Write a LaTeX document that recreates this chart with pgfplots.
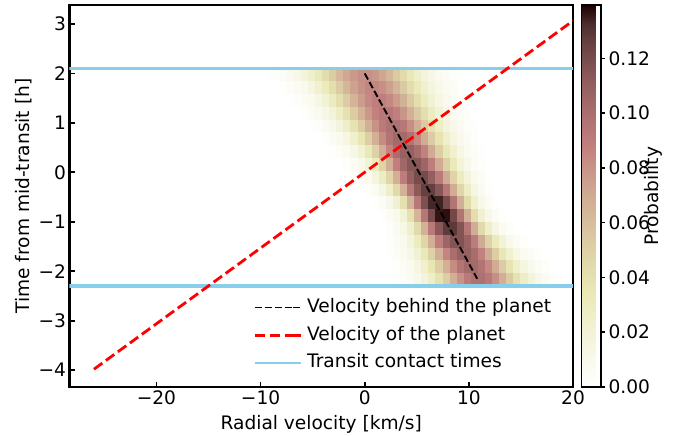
\documentclass[border=0pt]{standalone}
\usepackage{pgfplots}
\pgfplotsset{compat=1.18}
\usepackage{fontspec}
\setmainfont{DejaVu Sans}
\newcommand{\fs}{\fontsize{18.6pt}{22pt}\selectfont}
\definecolor{skyblue}{RGB}{135,206,235}
\pgfdeclareplotmark{cell}{\pgfpathrectangle{\pgfpoint{-3.62pt}{-6.5pt}}{\pgfpoint{7.24pt}{13pt}}\pgfusepathqfill}
\pgfplotsset{colormap={pinkr}{rgb(0pt)=(1,1,1); rgb(6pt)=(0.980,0.980,0.939); rgb(13pt)=(0.956,0.956,0.862); rgb(25.4pt)=(0.911,0.911,0.705); rgb(38pt)=(0.864,0.798,0.643); rgb(50pt)=(0.816,0.672,0.577); rgb(55pt)=(0.796,0.612,0.548); rgb(60pt)=(0.775,0.545,0.516); rgb(63.5pt)=(0.759,0.493,0.493); rgb(70pt)=(0.690,0.447,0.447); rgb(80pt)=(0.568,0.365,0.365); rgb(90pt)=(0.410,0.258,0.258); rgb(95pt)=(0.302,0.183,0.183); rgb(100pt)=(0.118,0,0)}}
\pgfplotstableread{
x y c
-9.18 1.971 0.0017
-8.50 1.971 0.0030
-7.82 1.971 0.0049
-7.14 1.971 0.0079
-6.46 1.971 0.0120
-5.78 1.971 0.0175
-5.10 1.971 0.0247
-4.42 1.971 0.0332
-3.74 1.971 0.0428
-3.06 1.971 0.0530
-2.38 1.971 0.0629
-1.70 1.971 0.0715
-1.02 1.971 0.0780
-0.34 1.971 0.0815
0.34 1.971 0.0817
1.02 1.971 0.0785
1.70 1.971 0.0722
2.38 1.971 0.0638
3.06 1.971 0.0540
3.74 1.971 0.0438
4.42 1.971 0.0341
5.10 1.971 0.0254
5.78 1.971 0.0182
6.46 1.971 0.0125
7.14 1.971 0.0082
7.82 1.971 0.0052
8.50 1.971 0.0031
9.18 1.971 0.0018
-7.82 1.712 0.0022
-7.14 1.712 0.0039
-6.46 1.712 0.0065
-5.78 1.712 0.0103
-5.10 1.712 0.0157
-4.42 1.712 0.0229
-3.74 1.712 0.0318
-3.06 1.712 0.0421
-2.38 1.712 0.0532
-1.70 1.712 0.0642
-1.02 1.712 0.0739
-0.34 1.712 0.0813
0.34 1.712 0.0854
1.02 1.712 0.0856
1.70 1.712 0.0819
2.38 1.712 0.0748
3.06 1.712 0.0652
3.74 1.712 0.0543
4.42 1.712 0.0431
5.10 1.712 0.0327
5.78 1.712 0.0237
6.46 1.712 0.0164
7.14 1.712 0.0108
7.82 1.712 0.0068
8.50 1.712 0.0041
9.18 1.712 0.0023
-7.14 1.453 0.0016
-6.46 1.453 0.0030
-5.78 1.453 0.0053
-5.10 1.453 0.0088
-4.42 1.453 0.0140
-3.74 1.453 0.0211
-3.06 1.453 0.0302
-2.38 1.453 0.0411
-1.70 1.453 0.0531
-1.02 1.453 0.0653
-0.34 1.453 0.0763
0.34 1.453 0.0847
1.02 1.453 0.0893
1.70 1.453 0.0895
2.38 1.453 0.0853
3.06 1.453 0.0772
3.74 1.453 0.0665
4.42 1.453 0.0543
5.10 1.453 0.0422
5.78 1.453 0.0312
6.46 1.453 0.0219
7.14 1.453 0.0146
7.82 1.453 0.0093
8.50 1.453 0.0056
9.18 1.453 0.0032
9.86 1.453 0.0017
-5.78 1.194 0.0023
-5.10 1.194 0.0043
-4.42 1.194 0.0074
-3.74 1.194 0.0123
-3.06 1.194 0.0193
-2.38 1.194 0.0285
-1.70 1.194 0.0399
-1.02 1.194 0.0529
-0.34 1.194 0.0662
0.34 1.194 0.0784
1.02 1.194 0.0879
1.70 1.194 0.0932
2.38 1.194 0.0935
3.06 1.194 0.0887
3.74 1.194 0.0796
4.42 1.194 0.0675
5.10 1.194 0.0542
5.78 1.194 0.0411
6.46 1.194 0.0296
7.14 1.194 0.0201
7.82 1.194 0.0129
8.50 1.194 0.0078
9.18 1.194 0.0045
9.86 1.194 0.0025
-5.10 0.935 0.0017
-4.42 0.935 0.0032
-3.74 0.935 0.0060
-3.06 0.935 0.0104
-2.38 0.935 0.0171
-1.70 0.935 0.0264
-1.02 0.935 0.0384
-0.34 0.935 0.0523
0.34 0.935 0.0672
1.02 0.935 0.0810
1.70 0.935 0.0919
2.38 0.935 0.0981
3.06 0.935 0.0984
3.74 0.935 0.0928
4.42 0.935 0.0823
5.10 0.935 0.0686
5.78 0.935 0.0538
6.46 0.935 0.0397
7.14 0.935 0.0275
7.82 0.935 0.0179
8.50 0.935 0.0110
9.18 0.935 0.0063
9.86 0.935 0.0034
10.54 0.935 0.0018
-3.74 0.676 0.0024
-3.06 0.676 0.0047
-2.38 0.676 0.0087
-1.70 0.676 0.0150
-1.02 0.676 0.0243
-0.34 0.676 0.0366
0.34 0.676 0.0515
1.02 0.676 0.0678
1.70 0.676 0.0834
2.38 0.676 0.0959
3.06 0.676 0.1029
3.74 0.676 0.1033
4.42 0.676 0.0968
5.10 0.676 0.0849
5.78 0.676 0.0695
6.46 0.676 0.0531
7.14 0.676 0.0380
7.82 0.676 0.0254
8.50 0.676 0.0158
9.18 0.676 0.0092
9.86 0.676 0.0050
10.54 0.676 0.0026
-3.06 0.418 0.0016
-2.38 0.418 0.0035
-1.70 0.418 0.0069
-1.02 0.418 0.0127
-0.34 0.418 0.0216
0.34 0.418 0.0342
1.02 0.418 0.0501
1.70 0.418 0.0682
2.38 0.418 0.0860
3.06 0.418 0.1004
3.74 0.418 0.1087
4.42 0.418 0.1092
5.10 0.418 0.1016
5.78 0.418 0.0876
6.46 0.418 0.0700
7.14 0.418 0.0519
7.82 0.418 0.0356
8.50 0.418 0.0227
9.18 0.418 0.0134
9.86 0.418 0.0073
10.54 0.418 0.0037
11.22 0.418 0.0017
-1.70 0.159 0.0025
-1.02 0.159 0.0053
-0.34 0.159 0.0104
0.34 0.159 0.0189
1.02 0.159 0.0316
1.70 0.159 0.0484
2.38 0.159 0.0681
3.06 0.159 0.0881
3.74 0.159 0.1048
4.42 0.159 0.1145
5.10 0.159 0.1150
5.78 0.159 0.1061
6.46 0.159 0.0900
7.14 0.159 0.0702
7.82 0.159 0.0503
8.50 0.159 0.0331
9.18 0.159 0.0200
9.86 0.159 0.0111
10.54 0.159 0.0057
11.22 0.159 0.0027
-1.02 -0.100 0.0017
-0.34 -0.100 0.0040
0.34 -0.100 0.0085
1.02 -0.100 0.0164
1.70 -0.100 0.0289
2.38 -0.100 0.0463
3.06 -0.100 0.0677
3.74 -0.100 0.0900
4.42 -0.100 0.1090
5.10 -0.100 0.1203
5.78 -0.100 0.1209
6.46 -0.100 0.1106
7.14 -0.100 0.0921
7.82 -0.100 0.0699
8.50 -0.100 0.0483
9.18 -0.100 0.0304
9.86 -0.100 0.0174
10.54 -0.100 0.0091
11.22 -0.100 0.0043
11.90 -0.100 0.0019
0.34 -0.359 0.0030
1.02 -0.359 0.0068
1.70 -0.359 0.0141
2.38 -0.359 0.0263
3.06 -0.359 0.0442
3.74 -0.359 0.0670
4.42 -0.359 0.0917
5.10 -0.359 0.1131
5.78 -0.359 0.1260
6.46 -0.359 0.1267
7.14 -0.359 0.1149
7.82 -0.359 0.0940
8.50 -0.359 0.0695
9.18 -0.359 0.0463
9.86 -0.359 0.0278
10.54 -0.359 0.0151
11.22 -0.359 0.0074
11.90 -0.359 0.0033
1.02 -0.618 0.0019
1.70 -0.618 0.0049
2.38 -0.618 0.0112
3.06 -0.618 0.0226
3.74 -0.618 0.0407
4.42 -0.618 0.0653
5.10 -0.618 0.0931
5.78 -0.618 0.1182
6.46 -0.618 0.1336
7.14 -0.618 0.1344
7.82 -0.618 0.1203
8.50 -0.618 0.0959
9.18 -0.618 0.0680
9.86 -0.618 0.0429
10.54 -0.618 0.0241
11.22 -0.618 0.0121
11.90 -0.618 0.0054
12.58 -0.618 0.0021
1.70 -0.876 0.0017
2.38 -0.876 0.0044
3.06 -0.876 0.0103
3.74 -0.876 0.0214
4.42 -0.876 0.0396
5.10 -0.876 0.0647
5.78 -0.876 0.0937
6.46 -0.876 0.1201
7.14 -0.876 0.1365
7.82 -0.876 0.1373
8.50 -0.876 0.1223
9.18 -0.876 0.0966
9.86 -0.876 0.0675
10.54 -0.876 0.0418
11.22 -0.876 0.0229
11.90 -0.876 0.0111
12.58 -0.876 0.0048
13.26 -0.876 0.0018
2.38 -1.135 0.0027
3.06 -1.135 0.0063
3.74 -1.135 0.0134
4.42 -1.135 0.0254
5.10 -1.135 0.0433
5.78 -1.135 0.0666
6.46 -1.135 0.0921
7.14 -1.135 0.1144
7.82 -1.135 0.1279
8.50 -1.135 0.1286
9.18 -1.135 0.1163
9.86 -1.135 0.0945
10.54 -1.135 0.0691
11.22 -1.135 0.0455
11.90 -1.135 0.0269
12.58 -1.135 0.0143
13.26 -1.135 0.0068
13.94 -1.135 0.0029
2.38 -1.394 0.0022
3.06 -1.394 0.0048
3.74 -1.394 0.0097
4.42 -1.394 0.0181
5.10 -1.394 0.0306
5.78 -1.394 0.0477
6.46 -1.394 0.0680
7.14 -1.394 0.0888
7.82 -1.394 0.1062
8.50 -1.394 0.1164
9.18 -1.394 0.1170
9.86 -1.394 0.1076
10.54 -1.394 0.0907
11.22 -1.394 0.0701
11.90 -1.394 0.0496
12.58 -1.394 0.0322
13.26 -1.394 0.0191
13.94 -1.394 0.0104
14.62 -1.394 0.0052
15.30 -1.394 0.0024
2.38 -1.653 0.0016
3.06 -1.653 0.0035
3.74 -1.653 0.0069
4.42 -1.653 0.0127
5.10 -1.653 0.0216
5.78 -1.653 0.0342
6.46 -1.653 0.0501
7.14 -1.653 0.0682
7.82 -1.653 0.0860
8.50 -1.653 0.1004
9.18 -1.653 0.1087
9.86 -1.653 0.1092
10.54 -1.653 0.1016
11.22 -1.653 0.0876
11.90 -1.653 0.0700
12.58 -1.653 0.0519
13.26 -1.653 0.0356
13.94 -1.653 0.0227
14.62 -1.653 0.0134
15.30 -1.653 0.0073
15.98 -1.653 0.0037
16.66 -1.653 0.0017
3.06 -1.912 0.0024
3.74 -1.912 0.0047
4.42 -1.912 0.0087
5.10 -1.912 0.0150
5.78 -1.912 0.0243
6.46 -1.912 0.0366
7.14 -1.912 0.0515
7.82 -1.912 0.0678
8.50 -1.912 0.0834
9.18 -1.912 0.0959
9.86 -1.912 0.1029
10.54 -1.912 0.1033
11.22 -1.912 0.0968
11.90 -1.912 0.0849
12.58 -1.912 0.0695
13.26 -1.912 0.0531
13.94 -1.912 0.0380
14.62 -1.912 0.0254
15.30 -1.912 0.0158
15.98 -1.912 0.0092
16.66 -1.912 0.0050
17.34 -1.912 0.0026
3.06 -2.171 0.0017
3.74 -2.171 0.0032
4.42 -2.171 0.0060
5.10 -2.171 0.0104
5.78 -2.171 0.0171
6.46 -2.171 0.0264
7.14 -2.171 0.0384
7.82 -2.171 0.0523
8.50 -2.171 0.0672
9.18 -2.171 0.0810
9.86 -2.171 0.0919
10.54 -2.171 0.0981
11.22 -2.171 0.0984
11.90 -2.171 0.0928
12.58 -2.171 0.0823
13.26 -2.171 0.0686
13.94 -2.171 0.0538
14.62 -2.171 0.0397
15.30 -2.171 0.0275
15.98 -2.171 0.0179
16.66 -2.171 0.0110
17.34 -2.171 0.0063
18.02 -2.171 0.0034
18.70 -2.171 0.0018
}\heat
\begin{document}
\begin{tikzpicture}[font=\fs]
\useasboundingbox (-69.5pt,-49pt) rectangle (613.5pt,387pt);
\begin{axis}[
  at={(0pt,0pt)}, anchor=south west,
  clip mode=individual,
  scale only axis, width=503.5pt, height=382pt,
  xmin=-28.35, xmax=20, ymin=-4.34, ymax=3.384,
  axis line style={line width=2.6pt},
  tick align=inside, xtick pos=bottom, ytick pos=left,
  major tick length=5pt, major tick style={line width=1.8pt, black},
  xtick={-20,-10,0,10,20}, xticklabels={−20,−10,0,10,20},
  ytick={-4,-3,-2,-1,0,1,2,3}, yticklabels={−4,−3,−2,−1,0,1,2,3},
  tick label style={font=\fs},
  label style={font=\fs},
  xlabel={Radial velocity [km/s]}, xlabel shift=4pt,
  ylabel={Time from mid-transit [h]},
  colormap name=pinkr,
  point meta min=0, point meta max=0.1395,
  colorbar,
  colorbar style={
    at={(parent axis.north east)}, anchor=north west,
    scale only axis, width=19.5pt, height=382pt,
    ytick={0,0.02,0.04,0.06,0.08,0.10,0.12},
    yticklabels={0.00,0.02,0.04,0.06,0.08,0.10,0.12},
    ytick pos=right, yticklabel pos=right,
    tick align=outside, major tick length=4pt,
    major tick style={line width=1.5pt, black},
    axis line style={line width=1.2pt},
    yticklabel style={font=\fs},
    ylabel={Probability}, ylabel style={font=\fs},
    ylabel near ticks, ylabel shift=-12pt,
  },
  legend cell align=left,
  legend image code/.code={\draw[#1] (0pt,0pt) -- (38pt,0pt); \path (38pt,0pt) -- (46pt,0pt);},
  legend style={draw=none, fill=none, font=\fs, inner sep=0pt,
    at={(axis cs:-10.7,-2.45)}, anchor=north west,
    row sep=0pt,
    nodes={inner sep=4.8pt, text height=14pt, text depth=4pt}},
]
\addplot[scatter, only marks, mark=cell, point meta=explicit,
  scatter/use mapped color={draw=none, fill=mapped color}, forget plot]
  table[x=x, y=y, meta=c] {\heat};
\addplot[skyblue, line width=3.5pt, forget plot] coordinates {(-28.35,2.1) (20,2.1)};
\addplot[skyblue, line width=3.5pt, forget plot] coordinates {(-28.35,-2.3) (20,-2.3)};
\addplot[black, line width=1.9pt, dash pattern=on 6.9pt off 3pt] coordinates {(0,2.0) (10.8,-2.15)};
\addlegendentry{Velocity behind the planet}
\addplot[red, line width=2.8pt, dash pattern=on 10.3pt off 4.5pt] coordinates {(-26.0,-3.98) (20,3.064)};
\addlegendentry{Velocity of the planet}
\addlegendimage{skyblue, line width=2pt}
\addlegendentry{Transit contact times}
\end{axis}
\end{tikzpicture}
\end{document}
